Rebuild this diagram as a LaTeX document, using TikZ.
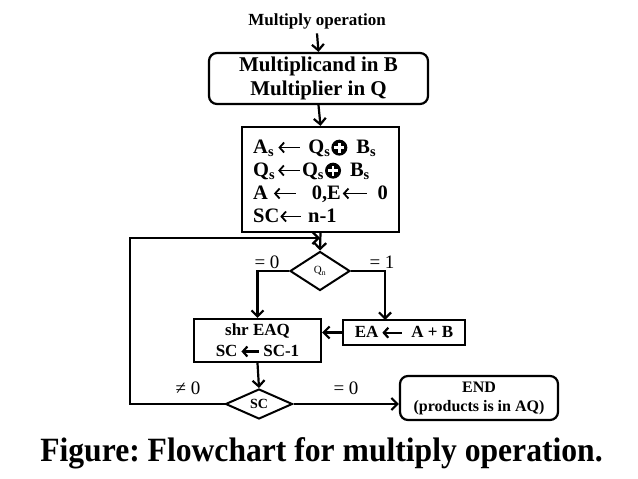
\documentclass[tikz,border=0pt]{standalone}
\usepackage{fontspec}
\setmainfont{Liberation Serif}
\usetikzlibrary{arrows.meta,shapes.geometric}
\frenchspacing
\newcommand{\myxor}{\tikz[baseline=-5.5pt]{\fill (0,0) circle (8pt); \draw[white,line width=2.4pt] (-5pt,0)--(5pt,0) (0,-5pt)--(0,5pt);}}
\newcommand{\larr}[2][1.8pt]{\tikz[baseline=-0.6ex]\draw[line width=#1,{Straight Barb[length=4.5pt,width=10pt,line width=#1]}-] (0,0)--(#2,0);}
\begin{document}
\begin{tikzpicture}[x=1pt,y=-1pt,
  arr/.style={line width=2.2pt,-{Straight Barb[length=6pt,width=12pt,line width=2.2pt]}},
  box/.style={draw,line width=2.2pt,inner sep=0pt,align=center,font=\bfseries},
  dia/.style={draw,line width=2pt,shape=diamond,inner sep=0pt},
  lbl/.style={font=\fontsize{19}{21}\selectfont,inner sep=0pt}]
\useasboundingbox (0,0) rectangle (638,479);
\fill[white] (0,0) rectangle (638,479);
\node[font=\fontsize{17}{19}\selectfont\bfseries,anchor=base,inner sep=0pt] (top) at (317,25.5) {Multiply operation};
\node[box,rounded corners=8pt,minimum width=219pt,minimum height=51pt,font=\fontsize{21}{24}\selectfont\bfseries] (start) at (318.5,78.5) {Multiplicand in B\\Multiplier in Q};
\node[box,minimum width=157pt,minimum height=105pt] (init) at (320.5,179.5) {};
\node[anchor=west,align=left,inner sep=0pt,font=\fontsize{20.5}{23}\selectfont\bfseries] (initt) at (253,181)
 {A\textsubscript{s}\,\larr{22pt}\hspace{7pt}Q\textsubscript{s}\hspace{1pt}\myxor\hspace{9pt}B\textsubscript{s}\\
  Q\textsubscript{s}\hspace{2pt}\larr{22pt}\hspace{1pt}Q\textsubscript{s}\hspace{1pt}\myxor\hspace{9pt}B\textsubscript{s}\\
  A\hspace{5pt}\larr{22pt}\hspace{15pt}0,E\hspace{1pt}\larr{24pt}\hspace{10pt}0\\
  SC\larr{21pt}\hspace{6pt}n-1};
\node[dia,minimum width=60pt,minimum height=39pt,font=\fontsize{11}{12}\selectfont] (qn) at (320,271) {Q\textsubscript{n}};
\node[box,minimum width=127pt,minimum height=43pt,font=\fontsize{17}{21}\selectfont\bfseries] (shr) at (257.5,340.5) {shr EAQ\\SC\,\larr[2.2pt]{18pt}\,SC-1};
\node[box,minimum width=122pt,minimum height=25pt,font=\fontsize{17}{19}\selectfont\bfseries] (ea) at (404,332.5) {EA\,\larr[2.2pt]{20pt}\hspace{8pt}A + B};
\node[dia,minimum width=67pt,minimum height=30pt,font=\fontsize{14}{16}\selectfont\bfseries] (sc) at (259,404) {SC};
\node[box,rounded corners=8pt,minimum width=158pt,minimum height=44pt,font=\fontsize{16}{19}\selectfont\bfseries] (end) at (479,398) {END\\(products is in AQ)};
\node[lbl] (l1) at (267,262) {= 0};
\node[lbl] (l2) at (382,262) {= 1};
\node[lbl] (l3) at (188,388) {≠ 0};
\node[lbl] (l4) at (346,388) {= 0};
\node[font=\fontsize{34}{38}\selectfont\bfseries,anchor=base,inner sep=0pt] (cap) at (321.5,461) {\scalebox{0.93}[1]{Figure: Flowchart for multiply operation.}};
\coordinate (lb) at (130,404);
\coordinate (lt) at (130,238);
\coordinate (join) at (320,238);
\coordinate (eain) at (385,320);
\draw[arr] (top.south) ++(0,4) -- (start.north);
\draw[arr] (start.south) -- (init.north);
\draw[arr] (init.south) -- (qn.north);
\draw[arr] (qn.west) -| (shr.north);
\draw[arr] (qn.east) -| (eain);
\draw[arr] (ea.west) -- (ea.west -| shr.east);
\draw[arr] (shr.south) -- (sc.north);
\draw[arr] (sc.east) -- (sc.east -| end.west);
\draw[arr] (sc.west) -- (lb) -- (lt) -- (join);
\end{tikzpicture}
\end{document}
